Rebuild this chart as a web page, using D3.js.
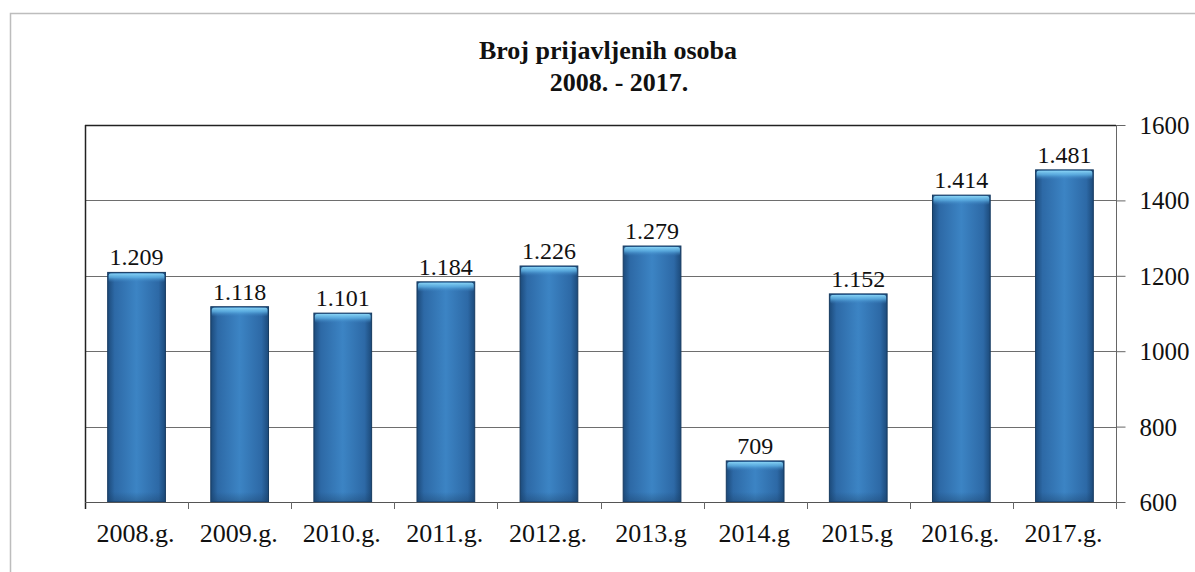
<!DOCTYPE html>
<html>
<head>
<meta charset="utf-8">
<script src="https://cdn.jsdelivr.net/npm/d3@7"></script>
<style>
  html, body { margin: 0; padding: 0; background: #ffffff; }
  svg { display: block; }
  text { font-family: "Liberation Serif", "Times New Roman", serif; fill: #111; }
</style>
</head>
<body>
<svg id="chart" width="1195" height="572"></svg>
<script>
// ---- data ----
const categories = ["2008.g.", "2009.g.", "2010.g.", "2011.g.", "2012.g.", "2013.g", "2014.g", "2015.g", "2016.g.", "2017.g."];
const values = [1209, 1118, 1101, 1184, 1226, 1279, 709, 1152, 1414, 1481];
const yTicks = [600, 800, 1000, 1200, 1400, 1600];
const titleLines = ["Broj prijavljenih osoba", "2008. - 2017."];

// ---- layout ----
const W = 1195, H = 572;
const plot = { left: 85, right: 1116, top: 125, bottom: 502 };

const svg = d3.select("#chart");

const x = d3.scaleBand()
  .domain(categories)
  .range([plot.left, plot.right])
  .paddingInner(0.44)
  .paddingOuter(0.22);

const y = d3.scaleLinear()
  .domain([600, 1600])
  .range([plot.bottom, plot.top]);

const loc = d3.formatLocale({ decimal: ",", thousands: ".", grouping: [3], currency: ["", ""] });
const fmt = loc.format(",d");

// defs
const defs = svg.append("defs");
const g1 = defs.append("linearGradient").attr("id", "barGrad").attr("x1", "0").attr("x2", "1").attr("y1", "0").attr("y2", "0");
[["0%", "#1c4a7a"], ["12%", "#2d69a6"], ["50%", "#3c84c4"], ["88%", "#2d69a6"], ["100%", "#1c4a7a"]]
  .forEach(([o, c]) => g1.append("stop").attr("offset", o).attr("stop-color", c));
const g2 = defs.append("linearGradient").attr("id", "topGrad").attr("x1", "0").attr("x2", "0").attr("y1", "0").attr("y2", "1");
[["0%", "#8ad6f7", 0.95], ["45%", "#62b6e8", 0.75], ["100%", "#3a80c0", 0]]
  .forEach(([o, c, op]) => g2.append("stop").attr("offset", o).attr("stop-color", c).attr("stop-opacity", op));
const g3 = defs.append("linearGradient").attr("id", "botGrad").attr("x1", "0").attr("x2", "0").attr("y1", "0").attr("y2", "1");
[["0%", "#1a3f66", 0], ["100%", "#1a3f66", 0.4]]
  .forEach(([o, c, op]) => g3.append("stop").attr("offset", o).attr("stop-color", c).attr("stop-opacity", op));

// outer frame
svg.append("rect")
  .attr("x", 10.5).attr("y", 13.5)
  .attr("width", W).attr("height", H)
  .attr("fill", "none").attr("stroke", "#bdbdbd").attr("stroke-width", 1.5);

// title
svg.append("text").attr("x", 608).attr("y", 59)
  .attr("text-anchor", "middle").attr("font-weight", "bold").attr("font-size", 26)
  .text(titleLines[0]);
svg.append("text").attr("x", 619).attr("y", 91)
  .attr("text-anchor", "middle").attr("font-weight", "bold").attr("font-size", 26)
  .text(titleLines[1]);

// gridlines
svg.append("g").selectAll("line")
  .data(yTicks.filter(t => t !== 600 && t !== 1600))
  .join("line")
  .attr("x1", plot.left).attr("x2", plot.right)
  .attr("y1", d => Math.round(y(d)) + 0.5).attr("y2", d => Math.round(y(d)) + 0.5)
  .attr("stroke", "#6e6e6e").attr("stroke-width", 1);

// bars
const bars = svg.append("g");
bars.selectAll("rect.bar")
  .data(values)
  .join("rect")
  .attr("class", "bar")
  .attr("x", (d, i) => x(categories[i]))
  .attr("y", d => y(d))
  .attr("width", x.bandwidth())
  .attr("height", d => y(600) - y(d))
  .attr("fill", "url(#barGrad)")
  .attr("stroke", "#163a60").attr("stroke-width", 1);
bars.selectAll("rect.hl")
  .data(values)
  .join("rect")
  .attr("class", "hl")
  .attr("x", (d, i) => x(categories[i]) + 1)
  .attr("y", d => y(d) + 1)
  .attr("width", x.bandwidth() - 2)
  .attr("height", 9)
  .attr("rx", 2)
  .attr("fill", "url(#topGrad)");
bars.selectAll("rect.sh")
  .data(values)
  .join("rect")
  .attr("class", "sh")
  .attr("x", (d, i) => x(categories[i]) + 0.5)
  .attr("y", y(600) - 10)
  .attr("width", x.bandwidth() - 1)
  .attr("height", 10)
  .attr("fill", "url(#botGrad)");

// data labels
svg.append("g").selectAll("text")
  .data(values)
  .join("text")
  .attr("x", (d, i) => x(categories[i]) + x.bandwidth() / 2)
  .attr("y", d => y(d) - 7)
  .attr("text-anchor", "middle")
  .attr("font-size", 24)
  .text(d => fmt(d));

// plot frame: top & left (dark), bottom axis
svg.append("line").attr("x1", plot.left).attr("x2", plot.right)
  .attr("y1", plot.top + 0.5).attr("y2", plot.top + 0.5)
  .attr("stroke", "#222").attr("stroke-width", 1.5);
svg.append("line").attr("x1", plot.left + 0.5).attr("x2", plot.left + 0.5)
  .attr("y1", plot.top).attr("y2", plot.bottom + 7)
  .attr("stroke", "#222").attr("stroke-width", 1.5);
svg.append("line").attr("x1", plot.left).attr("x2", plot.right)
  .attr("y1", plot.bottom + 0.5).attr("y2", plot.bottom + 0.5)
  .attr("stroke", "#555").attr("stroke-width", 1);

// x tick marks between categories
const step = x.step();
const boundaries = categories.slice(1).map(c => x(c) - step * x.paddingInner() / 2);
svg.append("g").selectAll("line")
  .data(boundaries)
  .join("line")
  .attr("x1", d => Math.round(d) + 0.5).attr("x2", d => Math.round(d) + 0.5)
  .attr("y1", plot.bottom).attr("y2", plot.bottom + 7)
  .attr("stroke", "#666");

// x labels
svg.append("g").selectAll("text")
  .data(categories)
  .join("text")
  .attr("x", d => x(d) + x.bandwidth() / 2 - 1)
  .attr("y", 542)
  .attr("text-anchor", "middle")
  .attr("font-size", 26)
  .text(d => d);

// right y axis
const yAxis = d3.axisRight(y).tickValues(yTicks).tickFormat(d3.format("d"))
  .tickSize(9).tickPadding(14).tickSizeOuter(0);
const ga = svg.append("g").attr("transform", `translate(${plot.right + 0.5},0)`).call(yAxis);
ga.select(".domain").attr("stroke", "#666").attr("d", `M0,${plot.top}V${plot.bottom + 7}`);
ga.selectAll(".tick line").attr("stroke", "#666");
ga.selectAll(".tick text")
  .attr("font-size", 25).attr("fill", "#111").attr("dy", "0.34em");
</script>
</body>
</html>
